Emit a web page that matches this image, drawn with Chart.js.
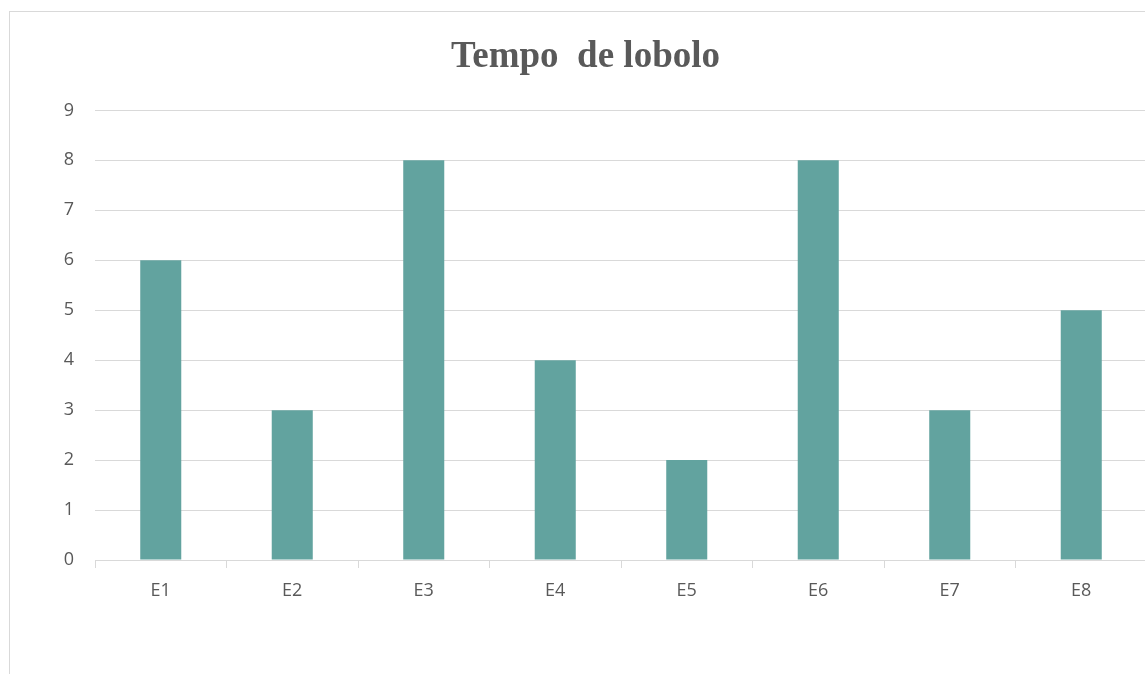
<!DOCTYPE html>
<html>
<head>
<meta charset="utf-8">
<script src="https://cdn.jsdelivr.net/npm/chart.js@4.4.0/dist/chart.umd.min.js"></script>
<style>
  html, body { margin: 0; padding: 0; background: #fff; overflow: hidden; width: 1145px; height: 674px; }
  #frame { position: absolute; left: 9px; top: 11px; width: 1200px; height: 700px; border: 1px solid #d9d9d9; box-sizing: border-box; }
  #wrap { position: absolute; left: 0; top: 0; width: 1170px; height: 674px; }
</style>
</head>
<body>
<div id="frame"></div>
<div id="wrap"><canvas id="chart" width="1170" height="674"></canvas></div>
<script>
// chart data
const categories = ['E1', 'E2', 'E3', 'E4', 'E5', 'E6', 'E7', 'E8'];
const values = [6, 3, 8, 4, 2, 8, 3, 5];
const yTicks = [0, 1, 2, 3, 4, 5, 6, 7, 8, 9];

const gridColor = '#d9d9d9';
const textColor = '#595959';

const ctx = document.getElementById('chart').getContext('2d');
new Chart(ctx, {
    type: 'bar',
    data: {
        labels: categories,
        datasets: [{
            label: 'Tempo de lobolo',
            data: values,
            backgroundColor: '#62a39f',
            borderWidth: 0,
            categoryPercentage: 1,
            barPercentage: 0.312
        }]
    },
    options: {
        responsive: false,
        animation: false,
        layout: { padding: { top: 20, right: 23, bottom: 0, left: 24 } },
        plugins: {
            legend: { display: false },
            tooltip: { enabled: false },
            title: {
                display: true,
                text: 'Tempo  de lobolo',
                color: textColor,
                font: { family: '"Liberation Serif", "Times New Roman", serif', size: 37, weight: 'bold' },
                padding: { top: 15, bottom: 31 }
            }
        },
        scales: {
            y: {
                min: 0,
                max: 9,
                afterBuildTicks: axis => { axis.ticks = yTicks.map(v => ({ value: v })); },
                afterFit: axis => { axis.width = 71; },
                border: { display: false },
                grid: { color: gridColor, drawTicks: false },
                ticks: {
                    color: textColor,
                    padding: 21,
                    font: { family: '"Open Sans", sans-serif', size: 18 }
                }
            },
            x: {
                afterFit: axis => { axis.height = 114; },
                border: { color: gridColor },
                grid: { color: gridColor, drawOnChartArea: false, tickLength: 8, offset: true },
                ticks: {
                    color: textColor,
                    padding: 12,
                    font: { family: '"Open Sans", sans-serif', size: 18 }
                }
            }
        }
    }
});
</script>
</body>
</html>
